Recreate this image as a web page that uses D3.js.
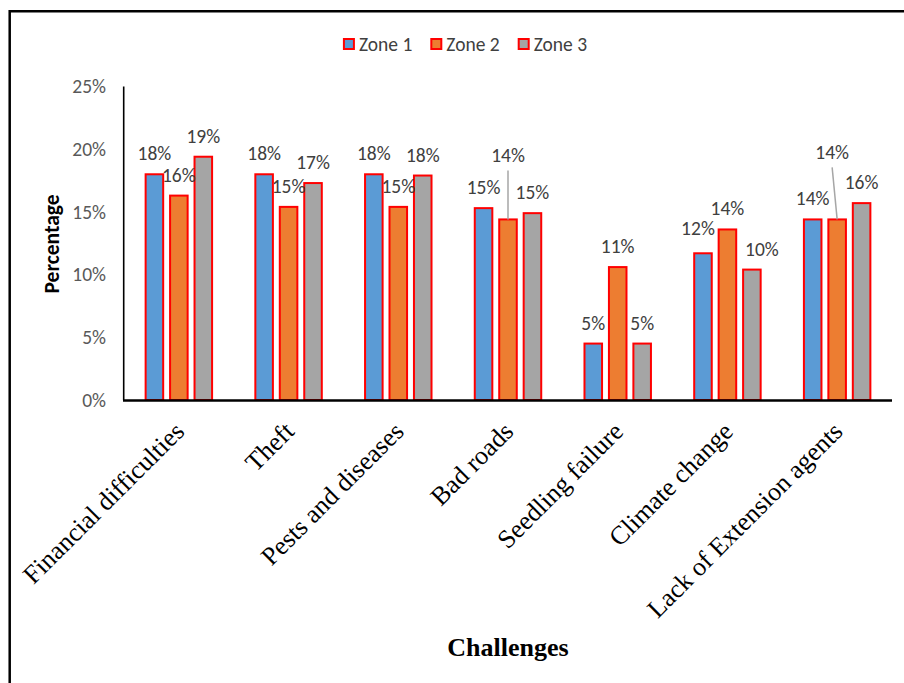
<!DOCTYPE html>
<html>
<head>
<meta charset="utf-8">
<script src="https://cdn.jsdelivr.net/npm/d3@7/dist/d3.min.js"></script>
<style>
  body { margin: 0; background: #fff; }
  svg { display: block; }
</style>
</head>
<body>
<svg id="chart" width="904" height="683"></svg>
<script>
// Challenges reported in each zone (% of respondents)
const categories = [
  "Financial difficulties", "Theft", "Pests and diseases", "Bad roads",
  "Seedling failure", "Climate change", "Lack of Extension agents"
];
const zones = ["Zone 1", "Zone 2", "Zone 3"];
const zone1 = [18.0, 18.0, 18.0, 15.3, 4.5, 11.7, 14.4];
const zone2 = [16.3, 15.4, 15.4, 14.4, 10.6, 13.6, 14.4];
const zone3 = [19.4, 17.3, 17.9, 14.9, 4.5, 10.4, 15.7];
const yTicks = [0, 5, 10, 15, 20, 25];
const zoneColors = ["#5B9BD5", "#ED7D31", "#A5A5A5"];

const seriesValues = [zone1, zone2, zone3];
const rows = [];
categories.forEach((c, i) => {
  zones.forEach((z, j) => rows.push({ category: c, zone: z, zi: j, value: seriesValues[j][i] }));
});

// hand-placed data labels that would otherwise collide
const labelNudge = {
  "Bad roads|1": { dx: 0, dy: -43, leader: true },
  "Climate change|0": { dx: -5, dy: -4 },
  "Climate change|2": { dx: 10, dy: 0 },
  "Lack of Extension agents|1": { dx: -5, dy: -46, leader: true }
};

const sansFont = "Carlito, Lato, 'Open Sans', sans-serif";
const serifFont = "'Liberation Serif', 'Times New Roman', serif";
const labelSize = 19.5;

const svg = d3.select("#chart");

// frame lines around the figure
svg.append("line").attr("x1", 9.7).attr("x2", 904).attr("y1", 11.3).attr("y2", 11.3)
  .attr("stroke", "#000").attr("stroke-width", 2.5);
svg.append("line").attr("x1", 9.7).attr("x2", 9.7).attr("y1", 10).attr("y2", 683)
  .attr("stroke", "#000").attr("stroke-width", 2.5);

const plot = { left: 124, right: 892, top: 86.5, bottom: 400 };

const x0 = d3.scaleBand().domain(categories)
  .range([plot.left, plot.right]).paddingInner(0.376).paddingOuter(0.188);
const x1 = d3.scaleBand().domain(zones)
  .range([0, x0.bandwidth()]).paddingInner(0.2).paddingOuter(0);
const y = d3.scaleLinear().domain([0, 25]).range([plot.bottom, plot.top]);
const color = d3.scaleOrdinal().domain(zones).range(zoneColors);

// y axis: labels only, plus a plain axis line
const yAxis = d3.axisLeft(y).tickValues(yTicks).tickSize(0).tickPadding(18)
  .tickFormat(d => d + "%");
const gy = svg.append("g").attr("transform", `translate(${plot.left},0)`).call(yAxis);
gy.select(".domain").remove();
gy.selectAll("text").attr("font-family", sansFont).attr("font-size", labelSize).attr("fill", "#595959");
svg.append("line").attr("x1", plot.left - 0.3).attr("x2", plot.left - 0.3)
  .attr("y1", y(25)).attr("y2", y(0)).attr("stroke", "#000").attr("stroke-width", 1.6);

// bars
const bars = svg.append("g");
bars.selectAll("rect").data(rows).join("rect")
  .attr("x", d => x0(d.category) + x1(d.zone) + 1)
  .attr("width", x1.bandwidth() - 2)
  .attr("y", d => y(d.value))
  .attr("height", d => y(0) - y(d.value))
  .attr("fill", d => color(d.zone))
  .attr("stroke", "#FF0000")
  .attr("stroke-width", 2);

// x axis line
svg.append("line").attr("x1", plot.left - 1).attr("x2", plot.right)
  .attr("y1", y(0) + 0.5).attr("y2", y(0) + 0.5).attr("stroke", "#000").attr("stroke-width", 2.3);

// data labels with leader lines where moved far from the bar
const labels = svg.append("g");
rows.forEach(d => {
  const n = labelNudge[d.category + "|" + d.zi] || { dx: 0, dy: 0 };
  const cx = x0(d.category) + x1(d.zone) + x1.bandwidth() / 2;
  const top = y(d.value);
  const lx = cx + n.dx;
  const ly = top - 21 + n.dy;
  if (n.leader) {
    labels.append("line").attr("x1", lx).attr("y1", ly + 15).attr("x2", cx).attr("y2", top)
      .attr("stroke", "#A6A6A6").attr("stroke-width", 1.5);
  }
  labels.append("text").attr("x", lx).attr("y", ly).attr("dy", "0.36em")
    .attr("text-anchor", "middle").attr("font-family", sansFont).attr("font-size", labelSize)
    .attr("fill", "#404040").text(Math.round(d.value) + "%");
});

// category labels, rotated
const xAxis = d3.axisBottom(x0).tickSize(0).tickPadding(0);
const gx = svg.append("g").attr("transform", `translate(0,${plot.bottom})`).call(xAxis);
gx.select(".domain").remove();
gx.selectAll(".tick text")
  .attr("font-family", serifFont).attr("font-size", 26).attr("fill", "#000")
  .attr("text-anchor", "end").attr("dy", 0).attr("y", 0)
  .attr("transform", "translate(7,33) rotate(-45)");

// axis titles
svg.append("text").attr("x", (plot.left + plot.right) / 2).attr("y", 656)
  .attr("text-anchor", "middle").attr("font-family", serifFont).attr("font-weight", "bold")
  .attr("font-size", 26).attr("fill", "#000").text("Challenges");
svg.append("text").attr("transform", "translate(51.5,244) rotate(-90)").attr("dy", "0.36em")
  .attr("text-anchor", "middle").attr("font-family", sansFont).attr("font-weight", "bold")
  .attr("font-size", 21.5).attr("fill", "#000").text("Percentage");

// legend
const legend = svg.append("g");
let lxPos = 0;
zones.forEach(z => {
  const g = legend.append("g");
  g.append("rect").attr("x", 1).attr("y", -5).attr("width", 10).attr("height", 10)
    .attr("fill", color(z)).attr("stroke", "#FF0000").attr("stroke-width", 2);
  const t = g.append("text").attr("x", 16).attr("y", 0).attr("dy", "0.36em")
    .attr("font-family", sansFont).attr("font-size", labelSize).attr("fill", "#404040").text(z);
  const w = 16 + t.node().getComputedTextLength();
  g.attr("transform", `translate(${lxPos},0)`);
  lxPos += w + 18;
});
const legendWidth = lxPos - 18;
legend.attr("transform", `translate(${465 - legendWidth / 2},44)`);
</script>
</body>
</html>
